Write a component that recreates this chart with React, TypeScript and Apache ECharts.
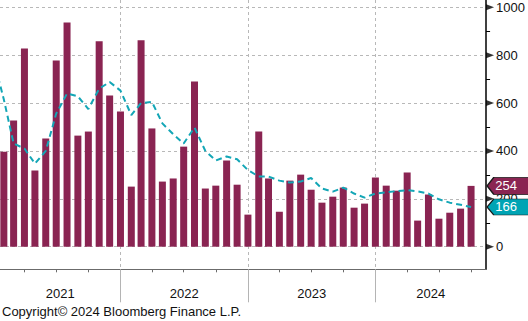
import React, { useEffect, useRef } from "react";
import * as echarts from "echarts";

const months = [
  "2021-01", "2021-02", "2021-03", "2021-04", "2021-05", "2021-06", "2021-07", "2021-08", "2021-09", "2021-10", "2021-11", "2021-12",
  "2022-01", "2022-02", "2022-03", "2022-04", "2022-05", "2022-06", "2022-07", "2022-08", "2022-09", "2022-10", "2022-11", "2022-12",
  "2023-01", "2023-02", "2023-03", "2023-04", "2023-05", "2023-06", "2023-07", "2023-08", "2023-09", "2023-10", "2023-11", "2023-12",
  "2024-01", "2024-02", "2024-03", "2024-04", "2024-05", "2024-06", "2024-07", "2024-08", "2024-09",
];

const monthlyValues = [
  397, 527, 828, 318, 452, 778, 937, 464, 481, 858, 632, 565,
  251, 862, 494, 272, 285, 418, 690, 243, 255, 360, 259, 134,
  481, 285, 146, 276, 301, 238, 184, 209, 247, 163, 180, 289,
  255, 234, 310, 109, 218, 117, 142, 159, 254,
];

const avgMonths = ["2020-12", ...months];
const avgValues = [
  790,
  615, 431, 410, 347, 400, 556, 640, 628, 575, 660, 688, 652,
  550, 600, 605, 515, 470, 431, 498, 400, 360, 377, 365, 320,
  293, 293, 276, 268, 272, 287, 243, 230, 247, 222, 205, 222,
  227, 232, 236, 231, 222, 198, 184, 175, 166,
];

const yMajorTicks = [0, 200, 400, 600, 800, 1000];
const yMinorTicks = [100, 300, 500, 700, 900];
const years = [2021, 2022, 2023, 2024];

const FONT = "Liberation Sans";
const BAR = "#8a2452";
const TEAL = "#13a6b6";
const TAG_TEAL = "#00a4b4";

const periodEnd = (m: string) => {
  const [y, mo] = m.split("-").map(Number);
  return Date.UTC(y, mo, 1);
};

const X_MIN = Date.UTC(2021, 0, 21);
const X_MAX = Date.UTC(2024, 10, 13);
const Y_MIN = -94.4;
const Y_MAX = 1030.5;

export default function App() {
  const ref = useRef<HTMLDivElement>(null);

  useEffect(() => {
    if (!ref.current) return;
    const chart = echarts.init(ref.current, undefined, { renderer: "svg" });

    const quarterTicks: number[] = [];
    years.forEach((y) => [0, 3, 6, 9].forEach((m) => {
      const t = Date.UTC(y, m, 1);
      if (t >= X_MIN && t <= X_MAX) quarterTicks.push(t);
    }));
    const yearBounds = years.map((y) => Date.UTC(y, 0, 1)).filter((t) => t >= X_MIN && t <= X_MAX);
    const yearMids = years.map((y) => {
      const s = Math.max(X_MIN, Date.UTC(y, 0, 1));
      const e = Math.min(X_MAX, Date.UTC(y + 1, 0, 1));
      return (s + e) / 2;
    });

    const lastBar = monthlyValues[monthlyValues.length - 1];
    const lastAvg = avgValues[avgValues.length - 1];
    const tagPath = "path://M0,8 L7,0 L48,0 L48,16 L7,16 Z";

    const option: any = {
      animation: false,
      grid: { left: 0, right: 41, top: 0, bottom: 51.7, containLabel: false },
      xAxis: [
        {
          type: "value",
          min: X_MIN,
          max: X_MAX,
          axisLine: { show: true, onZero: false, lineStyle: { color: "#6b6b6b", width: 1 } },
          axisTick: { show: true, length: 3, customValues: quarterTicks, lineStyle: { color: "#6b6b6b" } },
          axisLabel: { show: false },
          splitLine: { show: false },
        },
        {
          type: "value",
          min: X_MIN,
          max: X_MAX,
          position: "bottom",
          axisLine: { show: false, onZero: false },
          axisTick: { show: true, length: 33, customValues: yearBounds, lineStyle: { color: "#b4b4b4", width: 1 } },
          axisLabel: {
            show: true,
            customValues: yearMids,
            margin: 18,
            color: "#111",
            fontFamily: FONT,
            fontSize: 13,
            formatter: (v: number) => String(new Date(v).getUTCFullYear()),
          },
          splitLine: { show: true, lineStyle: { color: "#b8b8b8", type: [3, 3], width: 1 } },
        },
      ],
      yAxis: [
        {
          type: "value",
          position: "right",
          min: Y_MIN,
          max: Y_MAX,
          axisLine: { show: true, onZero: false, lineStyle: { color: "#000", width: 1.5 } },
          axisTick: { show: false, customValues: yMajorTicks },
          axisLabel: {
            show: true,
            customValues: yMajorTicks,
            margin: 10,
            color: "#111",
            fontFamily: FONT,
            fontSize: 13,
            formatter: (v: number) => String(Math.round(v)),
          },
          splitLine: { show: true, lineStyle: { color: "#b8b8b8", type: [3, 3], width: 1 } },
        },
        {
          type: "value",
          position: "right",
          min: Y_MIN,
          max: Y_MAX,
          axisLine: { show: false, onZero: false },
          axisTick: { show: true, length: 4, customValues: yMinorTicks, lineStyle: { color: "#000", width: 1 } },
          axisLabel: { show: false },
          splitLine: { show: false },
        },
      ],
      series: [
        {
          type: "bar",
          xAxisIndex: 0,
          yAxisIndex: 0,
          barWidth: 7,
          itemStyle: { color: BAR },
          data: months.map((m, i) => [periodEnd(m), monthlyValues[i]]),
          markPoint: {
            symbol: tagPath,
            symbolSize: [46, 17],
            symbolKeepAspect: false,
            symbolOffset: [24, 0],
            itemStyle: { color: BAR, borderColor: "#1a1a1a", borderWidth: 1 },
            label: {
              show: true,
              position: "inside",
              color: "#fff",
              fontFamily: FONT,
              fontSize: 13,
              offset: [-4, 0],
              formatter: String(lastBar),
            },
            data: [{ coord: [X_MAX, lastBar], value: lastBar }],
          },
        },
        {
          type: "line",
          xAxisIndex: 0,
          yAxisIndex: 0,
          symbol: "none",
          z: 3,
          lineStyle: { color: TEAL, width: 2, type: [6, 4] },
          data: avgMonths.map((m, i) => [periodEnd(m), avgValues[i]]),
          markPoint: {
            symbol: tagPath,
            symbolSize: [46, 16],
            symbolKeepAspect: false,
            symbolOffset: [24, 0],
            itemStyle: { color: TAG_TEAL, borderColor: "#1a1a1a", borderWidth: 1 },
            label: {
              show: true,
              position: "inside",
              color: "#fff",
              fontFamily: FONT,
              fontSize: 13,
              offset: [-4, 0],
              formatter: String(lastAvg),
            },
            data: [{ coord: [X_MAX, lastAvg], value: lastAvg }],
          },
        },
        {
          type: "scatter",
          xAxisIndex: 0,
          yAxisIndex: 0,
          clip: false,
          silent: true,
          z: 4,
          symbol: "path://M0,0 L8,3 L0,6 Z",
          symbolSize: [8, 6],
          symbolOffset: [4, 0],
          itemStyle: { color: "#000" },
          data: yMajorTicks.map((v) => [X_MAX, v]),
        },
      ],
      graphic: [
        {
          type: "text",
          left: 2,
          top: 305,
          style: { text: "Copyright\u00a9 2024 Bloomberg Finance L.P.", fill: "#111", font: `13px "${FONT}"` },
        },
      ],
    };

    chart.setOption(option);
    return () => chart.dispose();
  }, []);

  return (
    <div
      ref={ref}
      style={{ position: "fixed", left: 0, top: 0, width: 528, height: 321, background: "#fff" }}
    />
  );
}
